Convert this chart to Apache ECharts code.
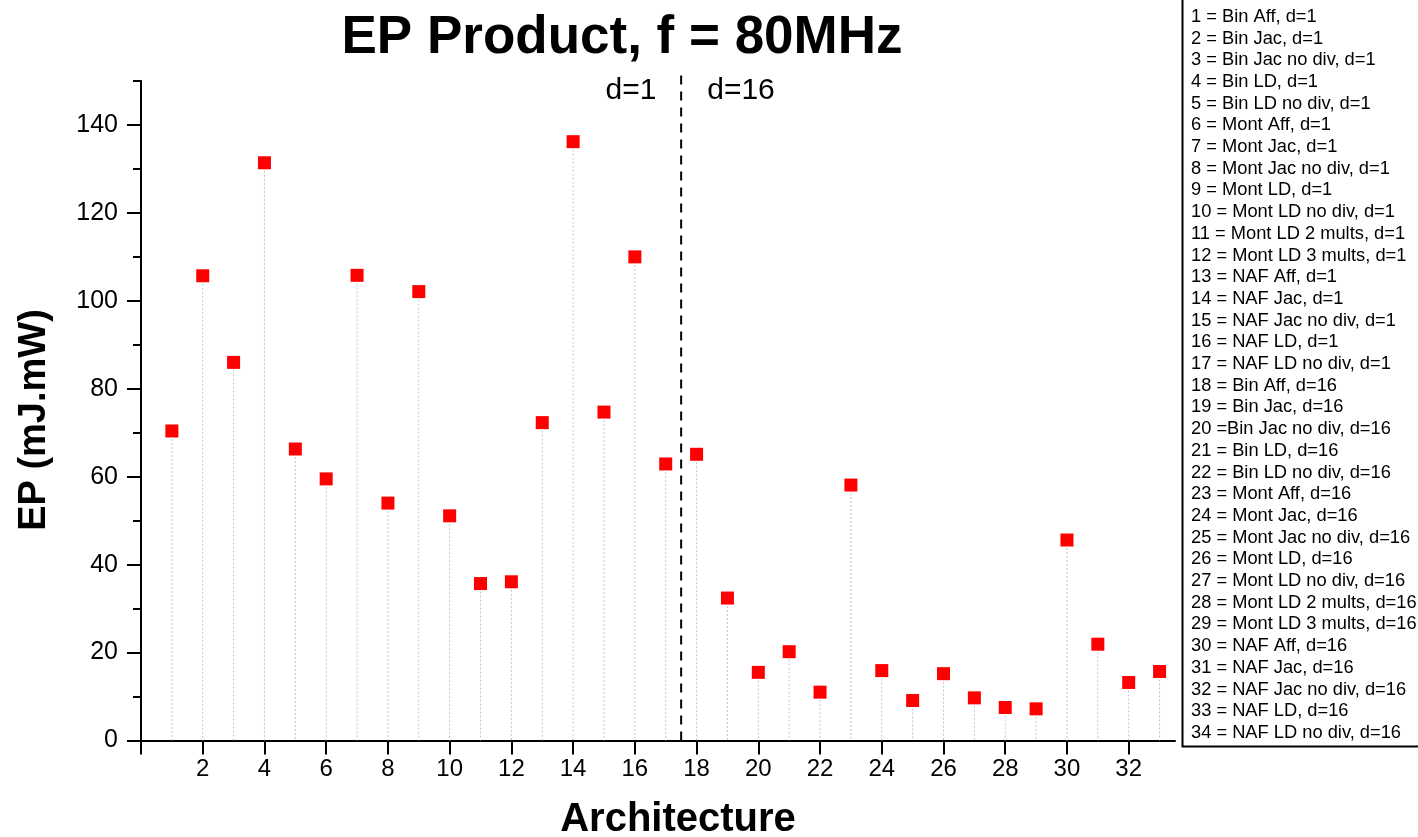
<!DOCTYPE html>
<html>
<head>
<meta charset="utf-8">
<script src="https://cdn.jsdelivr.net/npm/echarts@6/dist/echarts.min.js"></script>
<style>
  html, body { margin: 0; padding: 0; background: #fff; }
  #chart { width: 1418px; height: 837px; }
</style>
<title>EP Product</title>
</head>
<body>
<div id="chart"></div>
<script>
// architecture index and EP product (mJ.mW)
var archIds = [1, 2, 3, 4, 5, 6, 7, 8, 9, 10, 11, 12, 13, 14, 15, 16, 17,
               18, 19, 20, 21, 22, 23, 24, 25, 26, 27, 28, 29, 30, 31, 32, 33];
var epValues = [70.4, 105.7, 86.0, 131.4, 66.3, 59.5, 105.8, 54.0, 102.1, 51.1, 35.7, 36.1, 72.3, 136.2, 74.7, 110.0, 62.9,
                65.1, 32.4, 15.5, 20.2, 11.0, 58.1, 15.9, 9.1, 15.2, 9.7, 7.5, 7.2, 45.6, 21.9, 13.2, 15.7];

var legendLines = [
  '1 = Bin Aff, d=1', '2 = Bin Jac, d=1', '3 = Bin Jac no div, d=1', '4 = Bin LD, d=1',
  '5 = Bin LD no div, d=1', '6 = Mont Aff, d=1', '7 = Mont Jac, d=1', '8 = Mont Jac no div, d=1',
  '9 = Mont LD, d=1', '10 = Mont LD no div, d=1', '11 = Mont LD 2 mults, d=1', '12 = Mont LD 3 mults, d=1',
  '13 = NAF Aff, d=1', '14 = NAF Jac, d=1', '15 = NAF Jac no div, d=1', '16 = NAF LD, d=1',
  '17 = NAF LD no div, d=1', '18 = Bin Aff, d=16', '19 = Bin Jac, d=16', '20 =Bin Jac no div, d=16',
  '21 = Bin LD, d=16', '22 = Bin LD no div, d=16', '23 = Mont Aff, d=16', '24 = Mont Jac, d=16',
  '25 = Mont Jac no div, d=16', '26 = Mont LD, d=16', '27 = Mont LD no div, d=16', '28 = Mont LD 2 mults, d=16',
  '29 = Mont LD 3 mults, d=16', '30 = NAF Aff, d=16', '31 = NAF Jac, d=16', '32 = NAF Jac no div, d=16',
  '33 = NAF LD, d=16', '34 = NAF LD no div, d=16'
];

var xTicks = [0, 2, 4, 6, 8, 10, 12, 14, 16, 18, 20, 22, 24, 26, 28, 30, 32];
var xLabels = [2, 4, 6, 8, 10, 12, 14, 16, 18, 20, 22, 24, 26, 28, 30, 32];
var yTicks = [0, 20, 40, 60, 80, 100, 120, 140];

// d=1 / d=16 divider
var dividerX = 17.5;
var dividerTop = 152;

var font = '"Liberation Sans", Arial, Helvetica, sans-serif';
var myChart = echarts.init(document.getElementById('chart'));

var points = [];
for (var i = 0; i < archIds.length; i++) {
  points.push([archIds[i], epValues[i]]);
}

var axisBlack = { color: '#000', width: 2 };

var option = {
  animation: false,
  grid: { left: 141, right: 243, top: 81, bottom: 96.5 },
  xAxis: {
    type: 'value', min: 0, max: 33.5, interval: 2,
    splitLine: { show: false },
    axisLine: { onZero: false, lineStyle: axisBlack },
    axisTick: { customValues: xTicks, length: 14, lineStyle: axisBlack },
    axisLabel: { customValues: xLabels, fontSize: 24, color: '#000', fontFamily: font, margin: 17 }
  },
  yAxis: [{
    type: 'value', min: 0, max: 150, interval: 10,
    splitLine: { show: false },
    axisLine: { lineStyle: axisBlack },
    axisTick: { length: 8, lineStyle: axisBlack },
    axisLabel: { show: false }
  }, {
    type: 'value', min: 0, max: 150, interval: 10, position: 'left',
    splitLine: { show: false },
    axisLine: { show: false },
    axisTick: { customValues: yTicks, length: 14, lineStyle: axisBlack },
    axisLabel: { customValues: yTicks, fontSize: 25, color: '#000', fontFamily: font, margin: 23 }
  }],
  series: [{
    // grey dotted drop lines
    type: 'custom',
    data: points,
    z: 1,
    silent: true,
    renderItem: function (params, api) {
      var p = api.coord([api.value(0), api.value(1)]);
      var b = api.coord([api.value(0), 0]);
      return {
        type: 'line',
        shape: { x1: p[0], y1: p[1], x2: b[0], y2: b[1] },
        style: { stroke: '#c4c4c4', lineWidth: 1, lineDash: [2, 2] }
      };
    }
  }, {
    type: 'line',
    data: [[dividerX, 0], [dividerX, dividerTop]],
    symbol: 'none',
    clip: false,
    silent: true,
    z: 2,
    lineStyle: { color: '#000', width: 2, type: [9, 7] }
  }, {
    type: 'scatter',
    data: points,
    symbol: 'rect',
    symbolSize: 13,
    z: 3,
    itemStyle: { color: '#ff0000', opacity: 1 }
  }],
  graphic: [{
    type: 'text', x: 622, y: 38,
    style: { text: 'EP Product, f = 80MHz', font: 'bold 53px ' + font, fill: '#000',
             textAlign: 'center', textVerticalAlign: 'middle' }
  }, {
    type: 'text', x: 631, y: 91,
    style: { text: 'd=1', font: '30px ' + font, fill: '#000', textAlign: 'center', textVerticalAlign: 'middle' }
  }, {
    type: 'text', x: 741, y: 91,
    style: { text: 'd=16', font: '30px ' + font, fill: '#000', textAlign: 'center', textVerticalAlign: 'middle' }
  }, {
    type: 'text', x: 678, y: 820,
    style: { text: 'Architecture', font: 'bold 40px ' + font, fill: '#000', textAlign: 'center', textVerticalAlign: 'middle' }
  }, {
    type: 'text', x: 35, y: 420, rotation: Math.PI / 2,
    style: { text: 'EP (mJ.mW)', font: 'bold 38px ' + font, fill: '#000', textAlign: 'center', textVerticalAlign: 'middle' }
  }, {
    type: 'rect',
    shape: { x: 1182.5, y: -2, width: 240, height: 748.5 },
    style: { fill: '#fff', stroke: '#000', lineWidth: 2 }
  }, {
    type: 'text', x: 1191, y: 6,
    style: { text: legendLines.join('\n'), font: '18.3px ' + font, lineHeight: 21.7, fill: '#000',
             textAlign: 'left', textVerticalAlign: 'top' }
  }]
};

myChart.setOption(option);
</script>
</body>
</html>
